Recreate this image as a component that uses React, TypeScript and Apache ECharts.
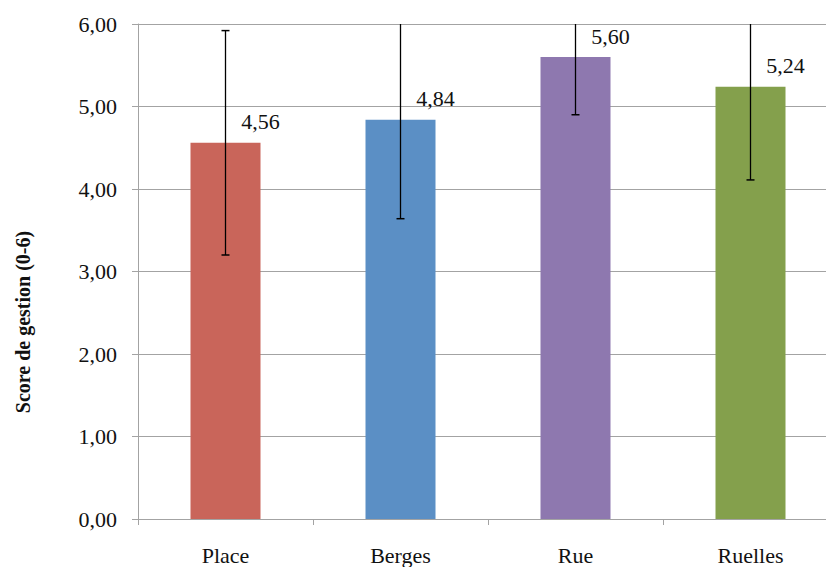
import React, { useEffect, useRef } from "react";
import * as echarts from "echarts";

const categories = ["Place", "Berges", "Rue", "Ruelles"];
const scores = [4.56, 4.84, 5.6, 5.24];
const errors = [1.36, 1.2, 0.7, 1.13];
const barColors = ["#C9655A", "#5B8FC5", "#8E78AF", "#84A04C"];
const yTicks = [0, 1, 2, 3, 4, 5, 6];

const FONT = "Liberation Serif";
const fmt = (v: number) => v.toFixed(2).replace(".", ",");

export default function App() {
  const ref = useRef<HTMLDivElement>(null);
  useEffect(() => {
    if (!ref.current) return;
    const chart = echarts.init(ref.current, undefined, { renderer: "svg" });
    const errData = scores.map((s, i) => [i, s - errors[i], s + errors[i]]);
    chart.setOption({
      animation: false,
      backgroundColor: "#ffffff",
      grid: { left: 138, top: 24, width: 700, height: 495 },
      xAxis: {
        type: "category",
        data: categories,
        axisLine: { lineStyle: { color: "#a3a3a3", width: 1 } },
        axisTick: { show: true, length: 6, lineStyle: { color: "#a3a3a3" } },
        axisLabel: { fontFamily: FONT, fontSize: 22, color: "#111", margin: 25 },
      },
      yAxis: {
        type: "value",
        min: yTicks[0],
        max: yTicks[yTicks.length - 1],
        interval: 1,
        axisLine: { show: true, lineStyle: { color: "#a3a3a3", width: 1 } },
        axisTick: { show: true, length: 6, lineStyle: { color: "#a3a3a3" } },
        splitLine: { show: true, lineStyle: { color: "#a3a3a3", width: 1 } },
        axisLabel: {
          fontFamily: FONT,
          fontSize: 22,
          color: "#111",
          margin: 21,
          formatter: (v: number) => fmt(v),
        },
      },
      graphic: [
        {
          type: "text",
          x: 23,
          y: 322,
          rotation: Math.PI / 2,
          style: {
            text: "Score de gestion (0-6)",
            fontFamily: FONT,
            fontSize: 20,
            fontWeight: "bold",
            fill: "#111",
            textAlign: "center",
            textVerticalAlign: "middle",
          },
        },
      ],
      series: [
        {
          type: "bar",
          data: scores.map((v, i) => ({ value: v, itemStyle: { color: barColors[i] } })),
          barWidth: "40%",
          label: {
            show: true,
            position: "top",
            distance: 10,
            offset: [35, 0],
            fontFamily: FONT,
            fontSize: 22,
            color: "#111",
            formatter: (p: any) => fmt(p.value),
          },
        },
        {
          type: "custom",
          data: errData,
          z: 10,
          renderItem: (params: any, api: any) => {
            const idx = api.value(0);
            const low = api.coord([idx, api.value(1)]);
            const high = api.coord([idx, api.value(2)]);
            const top = params.coordSys.y;
            const x = low[0];
            const hy = Math.max(high[1], top);
            const half = 4;
            const children: any[] = [
              { type: "line", shape: { x1: x, y1: low[1], x2: x, y2: hy }, style: { stroke: "#000", lineWidth: 1.3 } },
              { type: "line", shape: { x1: x - half, y1: low[1], x2: x + half, y2: low[1] }, style: { stroke: "#000", lineWidth: 1.5 } },
            ];
            if (high[1] >= top) {
              children.push({ type: "line", shape: { x1: x - half, y1: high[1], x2: x + half, y2: high[1] }, style: { stroke: "#000", lineWidth: 1.5 } });
            }
            return { type: "group", children };
          },
        },
      ],
    });
    return () => chart.dispose();
  }, []);
  return <div ref={ref} style={{ position: "fixed", left: 0, top: 0, width: 850, height: 567 }} />;
}
